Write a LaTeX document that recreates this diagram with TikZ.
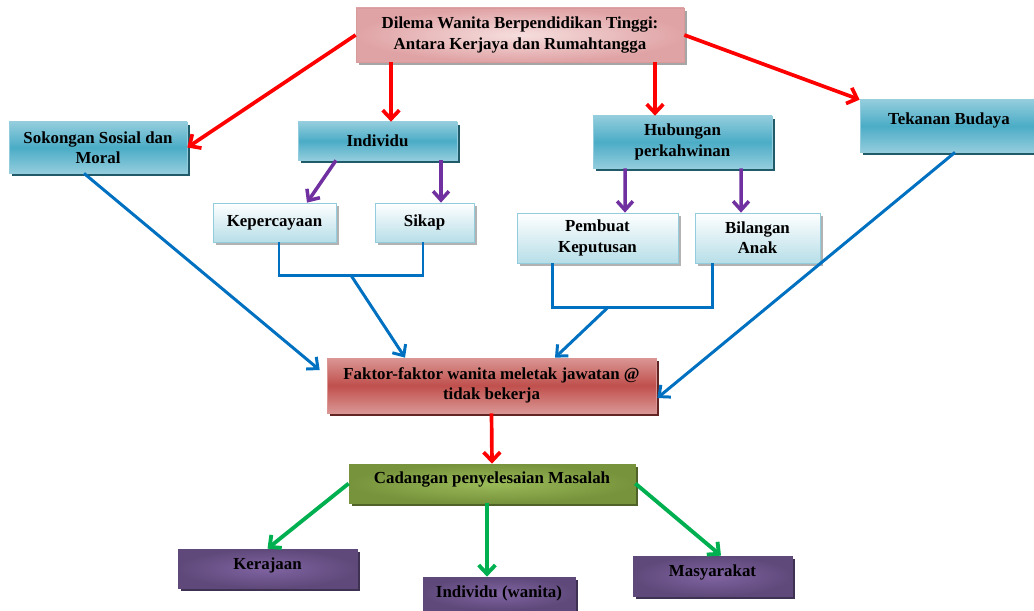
\documentclass[tikz,border=0pt]{standalone}
\usepackage{fontspec}
\setmainfont{Liberation Serif}
\usetikzlibrary{arrows.meta,calc,shadows}

\definecolor{dilemaIn}{HTML}{F6DEDE}
\definecolor{dilemaOut}{HTML}{E0A3A5}
\definecolor{dilemaEdge}{HTML}{D99A9C}
\definecolor{biruMuda}{HTML}{93CDDD}
\definecolor{biruTua}{HTML}{4BACC6}
\definecolor{biruBayang}{HTML}{215A69}
\definecolor{cerahBawah}{HTML}{B7DEE8}
\definecolor{merahMuda}{HTML}{DA9694}
\definecolor{merahTua}{HTML}{C0504D}
\definecolor{merahBayang}{HTML}{632523}
\definecolor{hijauIn}{HTML}{9BBB59}
\definecolor{hijauOut}{HTML}{77933C}
\definecolor{hijauBayang}{HTML}{4F6228}
\definecolor{unguIn}{HTML}{8064A2}
\definecolor{unguOut}{HTML}{5F497A}
\definecolor{unguBayang}{HTML}{3F3151}
\definecolor{garisMerah}{HTML}{FF0000}
\definecolor{garisBiru}{HTML}{0070C0}
\definecolor{garisUngu}{HTML}{7030A0}
\definecolor{garisHijau}{HTML}{00B050}

\tikzset{
	kotak/.style={draw, inner sep=0pt, align=center, text=black,
		font=\fontsize{9.6}{11.6}\selectfont\bfseries},
	sz/.style 2 args={minimum width=#1*0.02cm, minimum height=#2*0.02cm},
	bayang/.style={drop shadow={shadow xshift=1.6pt, shadow yshift=-1.6pt, fill=#1, opacity=1}},
	dilemabox/.style={kotak, draw=dilemaEdge, inner color=dilemaIn, outer color=dilemaOut, bayang=black!35},
	birubox/.style={kotak, draw=biruMuda, top color=biruMuda, bottom color=biruMuda, middle color=biruTua, bayang=biruBayang},
	cerahbox/.style={kotak, draw=biruMuda, top color=white, bottom color=cerahBawah, bayang=black!30},
	faktorbox/.style={kotak, draw=merahMuda, top color=merahMuda, bottom color=merahMuda, middle color=merahTua, bayang=merahBayang},
	cadanganbox/.style={kotak, draw=hijauOut, inner color=hijauIn, outer color=hijauOut, bayang=hijauBayang},
	ungubox/.style={kotak, draw=unguOut, inner color=unguIn, outer color=unguOut, bayang=unguBayang},
	merahpanah/.style={draw=garisMerah, line width=2.1pt, -{Straight Barb[length=5pt,width=9.5pt]}},
	ungupanah/.style={draw=garisUngu, line width=2pt, -{Straight Barb[length=5pt,width=9pt]}},
	birugaris/.style={draw=garisBiru, line width=1.7pt},
	birupanah/.style={birugaris, -{Straight Barb[length=5pt,width=9pt]}},
	hijaupanah/.style={draw=garisHijau, line width=2.2pt, -{Straight Barb[length=5pt,width=9.5pt]}},
}

\begin{document}
\begin{tikzpicture}[x=0.02cm, y=-0.02cm]
	\useasboundingbox (0,0) rectangle (1034,611);

	% kotak utama
	\node[dilemabox, sz={328}{54}] (dilema) at (520,35) {Dilema Wanita Berpendidikan Tinggi:\\Antara Kerjaya dan Rumahtangga};
	\node[birubox, sz={178}{51}] (sokongan) at (98,147.5) {Sokongan Sosial dan\\Moral};
	\node[birubox, sz={159}{38}] (individu) at (377.5,141) {Individu};
	\node[birubox, sz={179}{52}] (hubungan) at (682.5,142) {Hubungan\\perkahwinan};
	\node[birubox, sz={178}{52}, text depth=8pt] (tekanan) at (949,126) {Tekanan Budaya};
	\node[cerahbox, sz={123}{39}] (percaya) at (274.5,222.5) {Kepercayaan};
	\node[cerahbox, sz={99}{39}] (sikap) at (424.5,222.5) {Sikap};
	\node[cerahbox, sz={161}{50}] (pembuat) at (597.5,238) {Pembuat\\Keputusan};
	\node[cerahbox, sz={125}{50}] (bilangan) at (757.5,238) {Bilangan\\Anak};
	\node[faktorbox, sz={329}{55}] (faktor) at (491.5,385.5) {Faktor-faktor wanita meletak jawatan @\\tidak bekerja};
	\node[cadanganbox, sz={286}{39}, text depth=7pt] (cadangan) at (492,483.5) {Cadangan penyelesaian Masalah};
	\node[ungubox, sz={179}{39}, text depth=6pt] (kerajaan) at (267.5,568.5) {Kerajaan};
	\node[ungubox, sz={152}{33}] (wanita) at (499,593.5) {Individu (wanita)};
	\node[ungubox, sz={159}{40}, text depth=6.5pt] (masyarakat) at (712.5,576) {Masyarakat};

	% anak panah merah
	\draw[merahpanah] (dilema.west) -- (sokongan.east);
	\draw[merahpanah] ($(dilema.south -| individu.north)+(13.5,0)$) -- ($(individu.north)+(13.5,0)$);
	\draw[merahpanah] ($(dilema.south -| hubungan.north)+(-27.5,0)$) -- ($(hubungan.north)+(-27.5,0)$);
	\draw[merahpanah] (dilema.east) -- (tekanan.north west);

	% anak panah ungu
	\draw[ungupanah] ($(individu.south)+(-41.5,0)$) -- ($(percaya.north)+(32.5,0)$);
	\draw[ungupanah] ($(individu.south)+(63.5,0)$) -- ($(sikap.north)+(16.5,0)$);
	\draw[ungupanah] ($(hubungan.south)+(-57.5,0)$) -- ($(pembuat.north)+(27.5,0)$);
	\draw[ungupanah] ($(hubungan.south)+(58.5,0)$) -- ($(bilangan.north)+(-16.5,0)$);

	% garis biru
	\draw[birugaris] ($(percaya.south)+(4.5,0)$) -- ++(0,33) -| coordinate[pos=0.25] (kjoin) ($(sikap.south)+(-1.5,0)$);
	\draw[birugaris] ($(pembuat.south)+(-45.5,0)$) -- ++(0,44) -| coordinate[pos=0.175] (hjoin) ($(bilangan.south)+(-45.5,0)$);
	\draw[birupanah] ($(sokongan.south)+(-14,0)$) -- ($(faktor.west)+(-7,-15.5)$);
	\draw[birupanah] (kjoin) -- ($(faktor.north)+(-86.5,0)$);
	\draw[birupanah] (hjoin) -- ($(faktor.north)+(63.5,0)$);
	\draw[birupanah] ($(tekanan.south)+(6,0)$) -- ($(faktor.east)+(1,12.5)$);

	\draw[merahpanah] (faktor.south) -- (cadangan.north);

	% anak panah hijau
	\draw[hijaupanah] (cadangan.west) -- (kerajaan.north);
	\draw[hijaupanah] ($(cadangan.south -| wanita.north)+(-12,0)$) -- ($(wanita.north)+(-12,0)$);
	\draw[hijaupanah] (cadangan.east) -- ($(masyarakat.north)+(8.5,0)$);
\end{tikzpicture}
\end{document}
